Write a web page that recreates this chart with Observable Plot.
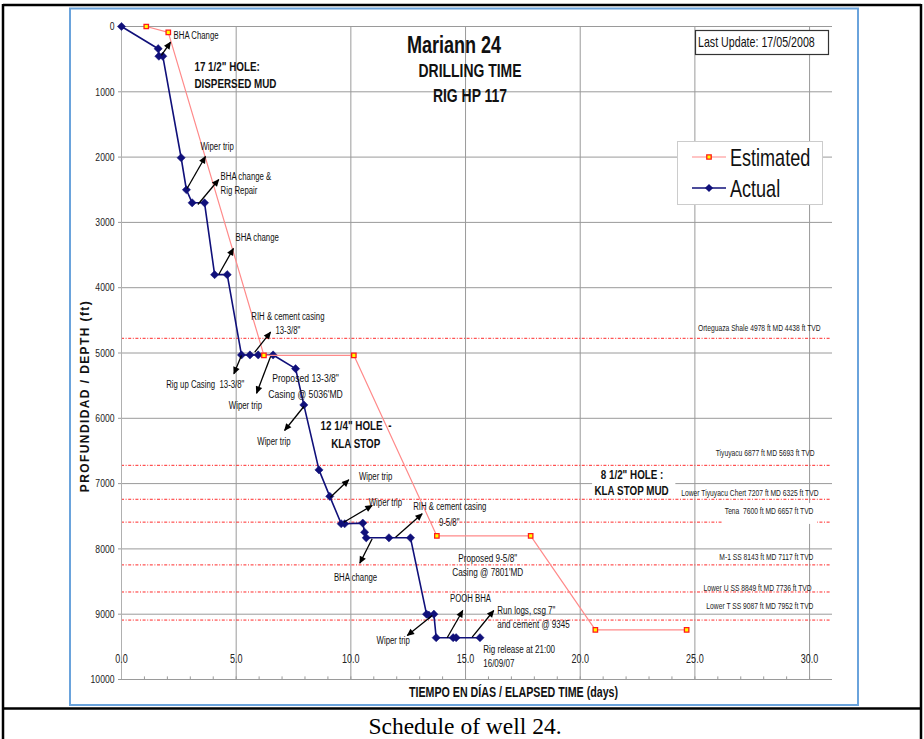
<!DOCTYPE html>
<html><head><meta charset="utf-8">
<script src="https://cdn.jsdelivr.net/npm/d3@7"></script>
<script src="https://cdn.jsdelivr.net/npm/@observablehq/plot@0.6"></script>
<style>
html,body{margin:0;padding:0;background:#fff;}
#chart{width:924px;height:739px;}
</style></head><body><div id="chart"></div>
<script>
const SANS = "'Liberation Sans',Arial,sans-serif";

// ---- data ----
const actualDay   = [0,1.60,1.63,1.80,2.60,2.83,3.08,3.62,4.06,4.61,5.23,5.60,5.96,6.61,7.59,7.95,8.61,9.08,9.58,9.73,10.52,10.60,10.67,11.66,12.60,13.30,13.40,13.62,13.72,14.46,14.59,15.63];
const actualDepth = [0,340,455,455,2010,2500,2700,2700,3800,3800,5030,5030,5030,5030,5240,5795,6790,7195,7615,7615,7605,7745,7830,7830,7830,9000,9015,9000,9360,9360,9360,9360];
const estDay   = [1.08,2.04,6.21,10.13,13.75,17.84,20.66,24.64];
const estDepth = [0,90,5036,5036,7801,7801,9240,9240];

const formationName = ["Orteguaza Shale 4978 ft MD 4438 ft TVD","Tiyuyacu 6877 ft MD 5693 ft TVD","Lower Tiyuyacu Chert 7207 ft MD 6325 ft TVD","Tena  7600 ft MD 6657 ft TVD","M-1 SS 8143 ft MD 7117 ft TVD","Lower U SS 8849 ft MD 7736 ft TVD","Lower T SS 9087 ft MD 7952 ft TVD"];
const formationDepth = [4775,6720,7240,7590,8245,8660,9090];
const formationLabelDepth = [4625,6539,7147,7427,8127,8602,8877];
const formationLabelDay = [30.48,30.22,30.39,30.17,30.17,30.09,30.17];

const xTicks = [0,5,10,15,20,25,30];
const xMinor = d3.range(1,31);
const yTicks = [0,1000,2000,3000,4000,5000,6000,7000,8000,9000,10000];

const arrowFrom = [[1.74,444],[2.86,2481],[3.33,2726],[4.24,3798],[5.81,4988],[5.23,5038],[6.50,5054],[7.95,5819],[9.11,7208],[9.69,7591],[11.95,7821],[10.93,7845],[14.20,9361],[15.29,9352],[13.55,9020]];
const arrowTo   = [[2.14,240],[3.66,1991],[4.24,2343],[4.88,3400],[6.50,4681],[4.90,5319],[5.89,5616],[7.11,6187],[9.91,6942],[10.93,7335],[13.11,7462],[10.39,8219],[14.88,8943],[16.23,8943],[12.46,9326]];

// [text, day, depth, size, weight, anchor]
const notes = [
 ["BHA Change",2.27,138,9.5,"normal","start"],
 ["17 1/2\" HOLE:",3.18,613,12,"bold","start"],
 ["DISPERSED MUD",3.18,873,12,"bold","start"],
 ["Wiper trip",3.44,1838,9.5,"normal","start"],
 ["BHA change &",4.32,2297,9.5,"normal","start"],
 ["Rig Repair",4.32,2511,9.5,"normal","start"],
 ["BHA change",4.97,3231,9.5,"normal","start"],
 ["RIH & cement casing",5.66,4441,9.5,"normal","start"],
 ["13-3/8\"",6.71,4655,9.5,"normal","start"],
 ["Rig up Casing  13-3/8\"",1.95,5482,9.5,"normal","start"],
 ["Wiper trip",4.68,5804,9.5,"normal","start"],
 ["Proposed 13-3/8\"",6.57,5390,10.5,"normal","start"],
 ["Casing @ 5036'MD",6.40,5636,10.5,"normal","start"],
 ["Wiper trip",5.92,6355,9.5,"normal","start"],
 ["12 1/4\" HOLE  -",8.68,6110,12,"bold","start"],
 ["KLA STOP",9.14,6386,12,"bold","start"],
 ["Wiper trip",10.35,6887,9.5,"normal","start"],
 ["Wiper trip",10.78,7285,9.5,"normal","start"],
 ["RIH & cement casing",12.72,7351,9.5,"normal","start"],
 ["9-5/8\"",13.84,7591,9.5,"normal","start"],
 ["BHA change",9.26,8433,9.5,"normal","start"],
 ["Proposed 9-5/8\"",14.68,8152,10,"normal","start"],
 ["Casing @ 7801'MD",14.42,8366,10,"normal","start"],
 ["POOH BHA",14.32,8764,9.5,"normal","start"],
 ["Run logs, csg 7\"",16.38,8943,9.8,"normal","start"],
 ["and cement @ 9345",16.38,9162,9.8,"normal","start"],
 ["Wiper trip",11.12,9403,9.5,"normal","start"],
 ["Rig release at 21:00",15.77,9545,9.8,"normal","start"],
 ["16/09/07",15.77,9750,9.8,"normal","start"],
 ["8 1/2\" HOLE :",22.26,6861,12,"bold","middle"],
 ["KLA STOP MUD",22.24,7116,12,"bold","middle"]
];

// ---- tables ----
const actual = actualDay.map((d,i)=>({day:d, depth:actualDepth[i]}));
const est = estDay.map((d,i)=>({day:d, depth:estDepth[i]}));
const formations = formationName.map((n,i)=>({name:n, depth:formationDepth[i], ly:formationLabelDepth[i], lx:formationLabelDay[i]}));
const arrows = arrowFrom.map((f,i)=>({x1:f[0], y1:f[1], x2:arrowTo[i][0], y2:arrowTo[i][1]}));
const noteRows = notes.map(n=>({t:n[0], x:n[1], y:n[2], s:n[3], w:n[4], a:n[5]}));
const boxes = [{x1:20.54,x2:24.17,y1:6753,y2:7198},{x1:26.2,x2:30.35,y1:7305,y2:7625}];

const navy = "#10107a";
const pink = "#ff8a8a";

const noteMarks = [];
for (const w of ["normal","bold"]) for (const a of ["start","middle"]) {
  const rows = noteRows.filter(r=>r.w===w && r.a===a);
  if (rows.length) noteMarks.push(Plot.text(rows, {x:"x", y:"y", text:"t", fontSize:d=>d.s, textAnchor:a, fontWeight:w, fill:"#111"}));
}

const marks = [
  Plot.gridY(yTicks.slice(0,10), {stroke:"#9a9a9a", strokeOpacity:1}),
  Plot.gridX(xTicks.slice(1), {stroke:"#9a9a9a", strokeOpacity:1}),
  Plot.ruleY(formations, {y:"depth", x1:0, x2:30.95, stroke:"#ff2a2a", strokeWidth:1, strokeDasharray:"3,1.6,1,1.6"}),
  Plot.rect(boxes, {x1:"x1", x2:"x2", y1:"y1", y2:"y2", fill:"white"}),
  Plot.ruleY([10000], {stroke:"#9a9a9a"}),
  Plot.ruleX([0], {stroke:"#b0b0b0"}),
  Plot.ruleX(xMinor, {y1:10000, y2:9960, stroke:"#9a9a9a"}),
  Plot.axisY(yTicks, {tickSize:3, tickPadding:4, fontSize:10.5, tickFormat:d=>String(d), stroke:"#999", color:"#222", label:null}),
  Plot.axisX(xTicks, {tickSize:0, tickPadding:3, dy:-28, fontSize:11, tickFormat:d=>d.toFixed(1), color:"#222", label:null}),
  Plot.text(formations, {x:"lx", y:"ly", text:"name", textAnchor:"end", fontSize:8.2, fill:"#222"}),
  Plot.line(actual, {x:"day", y:"depth", stroke:navy, strokeWidth:1.6}),
  Plot.dot(actual, {x:"day", y:"depth", symbol:"diamond2", r:3.7, fill:navy, stroke:navy, strokeWidth:0.5}),
  Plot.line(est, {x:"day", y:"depth", stroke:pink, strokeWidth:1.2}),
  Plot.dot(est, {x:"day", y:"depth", symbol:"square", r:2.5, fill:"#ffff00", stroke:"#ff1a1a", strokeWidth:1.3}),
  Plot.link(arrows, {x1:"x1", y1:"y1", x2:"x2", y2:"y2", stroke:"#000", strokeWidth:1.3}),
  ...noteMarks
];

const plot = Plot.plot({
  width: 924, height: 739,
  marginLeft: 121, marginRight: 92, marginTop: 26, marginBottom: 60,
  x: {domain:[0,31]},
  y: {domain:[0,10000], reverse:true},
  style: {fontFamily: SANS, background:"white", overflow:"visible"},
  marks
});
document.getElementById("chart").appendChild(plot);
const svg = d3.select(plot);

// arrowheads
const defs = svg.insert("defs", ":first-child");
defs.append("marker").attr("id","ahead").attr("viewBox","0 0 10 10").attr("refX",9).attr("refY",5)
  .attr("markerUnits","userSpaceOnUse").attr("markerWidth",9).attr("markerHeight",7.5).attr("orient","auto")
  .append("path").attr("d","M0,0.5 L10,5 L0,9.5 z").attr("fill","#000");
svg.selectAll('g[aria-label="link"] path').attr("marker-end","url(#ahead)");

// frames
svg.append("line").attr("x1",3).attr("x2",921).attr("y1",5).attr("y2",5).attr("stroke","#000").attr("stroke-width",2.5);
svg.append("line").attr("x1",3).attr("x2",3).attr("y1",4).attr("y2",739).attr("stroke","#000").attr("stroke-width",2.5);
svg.append("line").attr("x1",921).attr("x2",921).attr("y1",4).attr("y2",739).attr("stroke","#000").attr("stroke-width",2.5);
svg.append("line").attr("x1",3).attr("x2",921).attr("y1",708.5).attr("y2",708.5).attr("stroke","#000").attr("stroke-width",2.5);
svg.append("rect").attr("x",70).attr("y",8.5).attr("width",788).attr("height",696.5).attr("fill","none").attr("stroke","#6aa3dc").attr("stroke-width",2);

// titles
const T = (x,y,txt,size,weight,anchor) => svg.append("text").attr("x",x).attr("y",y).attr("text-anchor",anchor||"middle")
  .attr("dominant-baseline","central").attr("font-family",SANS).attr("font-size",size).attr("font-weight",weight||"normal").attr("fill","#111").text(txt);
T(454,44,"Mariann 24",22,"bold");
T(470,70,"DRILLING TIME",17,"bold");
T(470,95,"RIG HP 117",17,"bold");
T(513.5,692,"TIEMPO EN DÍAS / ELAPSED TIME (days)",13,"bold");

// last update box
svg.append("rect").attr("x",695.5).attr("y",30.5).attr("width",133).attr("height",24).attr("fill","white").attr("stroke","#333").attr("stroke-width",1.2);
T(698,42,"Last Update: 17/05/2008",13,"normal","start");

// legend
svg.append("rect").attr("x",677.5).attr("y",141.5).attr("width",145).attr("height",63).attr("fill","white").attr("stroke","#ccc").attr("stroke-width",1);
svg.append("line").attr("x1",692).attr("x2",726).attr("y1",157).attr("y2",157).attr("stroke",pink).attr("stroke-width",1.2);
svg.append("path").attr("d",d3.symbol(d3.symbolSquare, Math.PI*2.5*2.5)()).attr("transform","translate(709,157)").attr("fill","#ffff00").attr("stroke","#ff1a1a").attr("stroke-width",1.3);
svg.append("line").attr("x1",692).attr("x2",726).attr("y1",188).attr("y2",188).attr("stroke",navy).attr("stroke-width",1.6);
svg.append("path").attr("d",d3.symbol(d3.symbolDiamond2, Math.PI*3.7*3.7)()).attr("transform","translate(709,188)").attr("fill",navy);
T(730,157,"Estimated",22,"normal","start");
T(730,188,"Actual",22,"normal","start");

// condense all chart text (the reference uses a narrow face): keep the narrow width, enlarge glyph height slightly
svg.selectAll("text").each(function(){
  const len = this.getComputedTextLength();
  if (len > 0) {
    const fs = parseFloat(getComputedStyle(this).fontSize);
    this.setAttribute("textLength", (len*0.82).toFixed(2));
    this.setAttribute("lengthAdjust","spacingAndGlyphs");
    this.style.fontSize = (fs*1.1).toFixed(2) + "px";
  }
});

// y-axis title (wide bold, not condensed)
svg.append("text").attr("transform","translate(85,396) rotate(-90)").attr("text-anchor","middle").attr("dominant-baseline","central")
  .attr("font-family",SANS).attr("font-size",12).attr("font-weight","bold").attr("letter-spacing","1.4px").attr("fill","#111")
  .text("PROFUNDIDAD / DEPTH (ft)");

// caption
svg.append("text").attr("x",465).attr("y",734).attr("text-anchor","middle").attr("font-family","'Liberation Serif','Times New Roman',serif").attr("font-size",23.5).attr("fill","#000").text("Schedule of well 24.");
</script></body></html>
